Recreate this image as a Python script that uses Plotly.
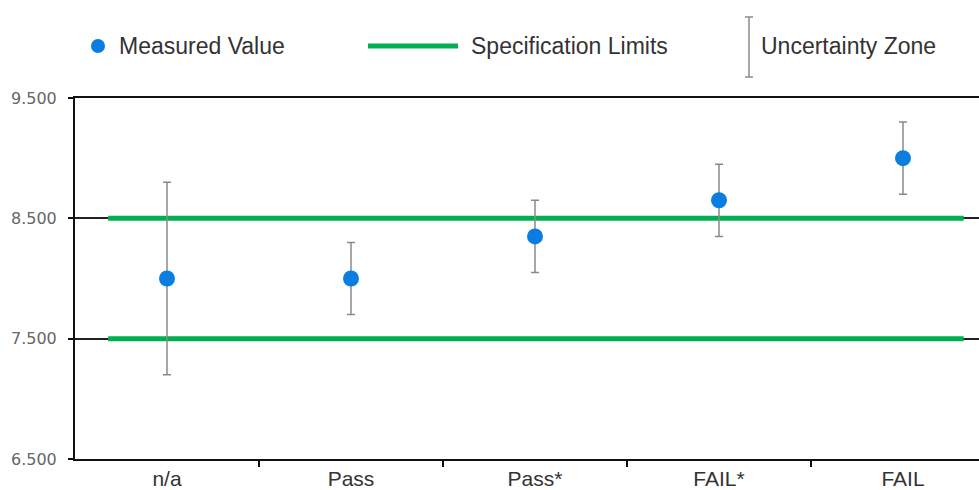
import plotly.graph_objects as go

# ---- data ----
categories = ["n/a", "Pass", "Pass*", "FAIL*", "FAIL"]
measured = [8.0, 8.0, 8.35, 8.65, 9.0]
uncertainty = [0.8, 0.3, 0.3, 0.3, 0.3]
spec_limits = [7.5, 8.5]
spec_x_extent = [-0.32, 4.33]
y_ticks = [6.5, 7.5, 8.5, 9.5]
legend_labels = ["Measured Value", "Specification Limits", "Uncertainty Zone"]

BLUE = "#0a7de0"
GREEN = "#00b050"
GRAY = "#8a8a8a"
TXT = "#333333"

W, H = 979, 490
ML, MR, MT, MB = 75, 0, 98, 31
PW, PH = W - ML - MR, H - MT - MB
SPACING = 184.0

x_pos = list(range(len(categories)))
boundaries = [i + 0.5 for i in range(len(categories) - 1)]

fig = go.Figure()

for lim in spec_limits:
    fig.add_trace(go.Scatter(
        x=spec_x_extent, y=[lim, lim], mode="lines",
        line=dict(color=GREEN, width=5), showlegend=False, hoverinfo="skip"))

fig.add_trace(go.Scatter(
    x=x_pos, y=measured, mode="markers",
    marker=dict(color=BLUE, size=16),
    error_y=dict(type="data", array=uncertainty, visible=True,
                 color=GRAY, thickness=1.5, width=4),
    showlegend=False))

# ---- manual legend (glyphs in pixel space converted to paper coords) ----
def px_x(px):
    return (px - ML) / PW

def px_y(py):
    return (MT + PH - py) / PH

shapes = []
shapes.append(dict(type="circle", xref="paper", yref="paper",
                   x0=px_x(91), x1=px_x(105), y0=px_y(53), y1=px_y(39),
                   fillcolor=BLUE, line=dict(width=0)))
shapes.append(dict(type="line", xref="paper", yref="paper",
                   x0=px_x(368), x1=px_x(458), y0=px_y(46), y1=px_y(46),
                   line=dict(color=GREEN, width=5)))
shapes.append(dict(type="line", xref="paper", yref="paper",
                   x0=px_x(749), x1=px_x(749), y0=px_y(17), y1=px_y(77),
                   line=dict(color=GRAY, width=1.5)))
for yy in (17, 77):
    shapes.append(dict(type="line", xref="paper", yref="paper",
                       x0=px_x(745), x1=px_x(753), y0=px_y(yy), y1=px_y(yy),
                       line=dict(color=GRAY, width=1.5)))

annotations = []
for label, px in zip(legend_labels, [117, 469, 759]):
    annotations.append(dict(text=label, xref="paper", yref="paper",
                            x=px_x(px), y=px_y(46), xanchor="left", yanchor="middle",
                            showarrow=False,
                            font=dict(family="Liberation Sans, Arial, sans-serif",
                                      size=23, color=TXT)))

fig.update_layout(
    width=W, height=H,
    margin=dict(l=ML, r=MR, t=MT, b=MB, autoexpand=False),
    paper_bgcolor="white", plot_bgcolor="white",
    showlegend=False,
    shapes=shapes, annotations=annotations,
    xaxis=dict(
        range=[-0.5, -0.5 + PW / SPACING],
        tickmode="array", tickvals=x_pos, ticktext=categories,
        ticks="", showgrid=False, zeroline=False,
        showline=True, mirror=True, linecolor="#111", linewidth=2,
        automargin=False,
        tickfont=dict(family="Liberation Sans, Arial, sans-serif", size=21, color=TXT),
        minor=dict(tickmode="array", tickvals=boundaries, ticks="outside",
                   ticklen=6, tickwidth=2, tickcolor="#111", showgrid=False),
    ),
    yaxis=dict(
        range=[6.5, 9.5],
        tickmode="array", tickvals=y_ticks, tickformat=".3f",
        ticks="outside", ticklen=5, tickwidth=2, tickcolor="#111",
        showline=True, linecolor="#111", linewidth=2,
        showgrid=True, gridcolor="#222", gridwidth=1.5, zeroline=False,
        ticklabelstandoff=8, automargin=False,
        tickfont=dict(family="DejaVu Sans, Verdana, sans-serif", size=16, color="#666666"),
    ),
)

fig.write_html("out.html", config={"displayModeBar": False},
               post_script="document.body.style.margin='0';")
